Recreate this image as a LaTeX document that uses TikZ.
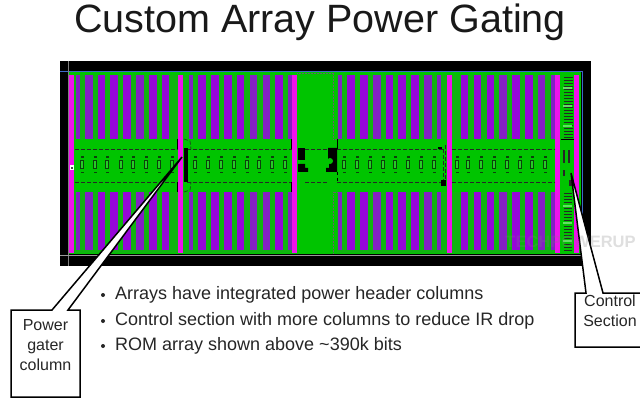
\documentclass[tikz,border=0pt]{standalone}
\usepackage{fontspec}
\setmainfont{Liberation Sans}
\definecolor{chipgreen}{HTML}{00C400}
\definecolor{gapgreen}{HTML}{10B410}
\definecolor{chippurple}{HTML}{9606D8}
\definecolor{dimpurple}{HTML}{8420C4}
\definecolor{chipmagenta}{HTML}{F012EC}
\definecolor{chipblue}{HTML}{3C68C8}
\definecolor{glyphdark}{HTML}{0C400C}
\tikzset{
  stripe/.style={fill=chippurple,draw=none},
  dimstripe/.style={fill=dimpurple,draw=none},
  column/.style={fill=chipmagenta,draw=none},
  dashrow/.style={draw=black!85,line width=0.9pt,dash pattern=on 4pt off 2pt},
  blackfill/.style={fill=black,draw=none},
  callout/.style={fill=white,draw=black,line width=1.5pt,line join=miter},
  labeltext/.style={font=\fontsize{16}{20}\selectfont,align=center,text=black!85,inner sep=0pt},
  bullettext/.style={font=\fontsize{18}{20}\selectfont,anchor=west,inner sep=0pt,text=black!85},
  glyph/.style={draw=glyphdark,line width=0.9pt,fill=chipgreen!85!white}
}
\begin{document}
\begin{tikzpicture}[x=1pt,y=-1pt]
\useasboundingbox (0,0) rectangle (640,401);
\fill[white] (0,0) rectangle (640,401);
\node[font=\fontsize{39.5}{44}\selectfont,inner sep=0pt,text=black!90] (title) at (320,22) {Custom Array Power Gating};
% chip frame
\fill[black] (60,61) rectangle (591,266);
\fill[chipgreen] (69,72) rectangle (581,254);
\draw[chipblue,line width=1pt] (60,71.5) -- (582.5,71.5) -- (582.5,255);
\draw[black!50,line width=0.5pt] (68,61) -- (68,266);
\draw[black!40,line width=0.9pt] (60,255) -- (583,255);
% gaps between stripes
\fill[gapgreen] (74,75) rectangle (292,139);
\fill[gapgreen] (74,192) rectangle (292,253);
\fill[gapgreen] (337,75) rectangle (555,139);
\fill[gapgreen] (337,192) rectangle (555,253);
% stripes
\foreach \ya/\yb in {75/139,192/250}{
  \foreach \a/\b in {98/105,110/118,123/131,149/157,162/169,198/206,211/219,224/232,237/244,275/283,347/355,360/368,386/393,398/406,411/419,461/468,474/481,487/494,512/520,525/533}
    \fill[stripe] (\a,\ya) rectangle (\b,\yb);
  \foreach \a/\b in {76/80,85/93,136/144,189/193,250/257,263/270,288/292,338/342,373/381,424/432,437/441,499/507,538/545,551/555}
    \fill[dimstripe] (\a,\ya) rectangle (\b,\yb);
}
% middle band
\fill[chipgreen] (74,139) rectangle (292,192);
\fill[chipgreen] (337,139) rectangle (555,192);
% central block outline
\draw[black!60,densely dotted,line width=0.5pt] (297,73) -- (333,73) -- (333,139) -- (337,139);
\draw[black!60,densely dotted,line width=0.5pt] (333,253) -- (333,192) -- (337,192);
% dashed rows
\foreach \xa/\xb in {75/178,187/292,305/327,337/443,452/555}{
  \draw[dashrow] (\xa,149) -- (\xb,149);
  \draw[dashrow] (\xa,182) -- (\xb,182);
}
% cells
\foreach \x in {82,95,107,121,133,146,159,172,195,208,221,234,247,259,272,285,344,357,370,383,395,408,421,434,457,468,481,494,507,520,532,545}{
  \draw[glyph] (\x-1.5,160) rectangle (\x+1.5,168);
  \fill[glyphdark] (\x-1.5,156.5) rectangle (\x+1.5,158);
  \fill[glyphdark] (\x-1.5,172) rectangle (\x+1.5,173.5);
}
% magenta columns
\foreach \a/\b in {69/74,178/183,292/297,447/452,555/560,574/579}
  \fill[column] (\a,75) rectangle (\b,253);
% black bars beside columns
\fill[blackfill] (176.5,139) rectangle (178,149);
\fill[blackfill] (176.5,182) rectangle (178,192);
\fill[blackfill] (183.5,148) rectangle (188,182);
\draw[dashrow,line width=0.6pt] (184,139) -- (190,141) -- (191,149);
\draw[dashrow,line width=0.6pt] (184,192) -- (190,190) -- (191,182);
\fill[blackfill] (290.5,139) rectangle (292,149);
\fill[blackfill] (290.5,182) rectangle (292,192);
\fill[blackfill] (337,139) rectangle (338,149);
\draw[dashrow,line width=0.7pt] (443,149) -- (443,182);
\draw[dashrow,line width=0.7pt] (445,145) -- (445,186);
\fill[blackfill] (441,180) rectangle (446,186);
\fill[blackfill] (438,147) rectangle (442,149);
% centre black shapes
\fill[blackfill] (298,148) -- (305,148) -- (305,160) -- (298,160) -- cycle;
\fill[blackfill] (298,164) -- (305,164) -- (305,168) -- (308,168) -- (308,172) -- (298,172) -- cycle;
\fill[blackfill] (328,148) -- (337,148) -- (337,172) -- (326,172) -- (326,168) -- (329,168) -- (329,160) -- (328,160) -- cycle;
\fill[chipgreen] (330,161) circle (3);
\draw[black,dashed,line width=0.5pt] (337,172) -- (337,182);
% left contact
\fill[white] (69.5,165.5) rectangle (74,170.5);
\fill[black!70] (71,167) rectangle (72.5,169);
% control section
\fill[chipgreen] (560,75) rectangle (574,253);
\foreach \yy in {77,80,...,137}{
  \fill[black!85] (564,\yy) rectangle (573,\yy+1);
}
\foreach \yy in {193,196,...,250}{
  \fill[black!85] (564,\yy) rectangle (572,\yy+1.2);
}
\foreach \yy in {87,105,125,205,222,240}{
  \fill[chipgreen!60!white] (563,\yy) rectangle (572,\yy+2);
}
\draw[black,line width=0.6pt] (561,139) -- (574,139);
\fill[black!85] (563,150) rectangle (565,176);
\fill[black!85] (568,150) rectangle (570,165);
\fill[chipgreen] (561,163) rectangle (574,170);
\fill[black!85] (569,180) rectangle (574,186);
% callouts
\path[callout] (11,310) -- (52,310) -- (182,157) -- (68,310) -- (80,310) -- (80,397) -- (11,397) -- cycle;
\path[callout] (575,293) -- (586,293) -- (571,173) -- (603,293) -- (645,293) -- (645,347) -- (575,347) -- cycle;
\node[labeltext] (gaterlabel) at (45.5,345) {Power\\gater\\column};
\node[labeltext] (controllabel) at (610,311) {Control\\Section};
% bullets
\node[bullettext] (b1) at (115,295) {Arrays have integrated power header columns};
\node[bullettext] (b2) at (115,321) {Control section with more columns to reduce IR drop};
\node[bullettext] (b3) at (115,346) {ROM array shown above \textasciitilde 390k bits};
\foreach \yb in {295,321,346}
  \fill[black!85] (103,\yb) circle (2);
% watermark
\node[font=\bfseries\fontsize{16.5}{18}\selectfont,text=gray,opacity=0.25,inner sep=0pt] (mark) at (570.5,242) {TECHPOWERUP};
\end{tikzpicture}
\end{document}
